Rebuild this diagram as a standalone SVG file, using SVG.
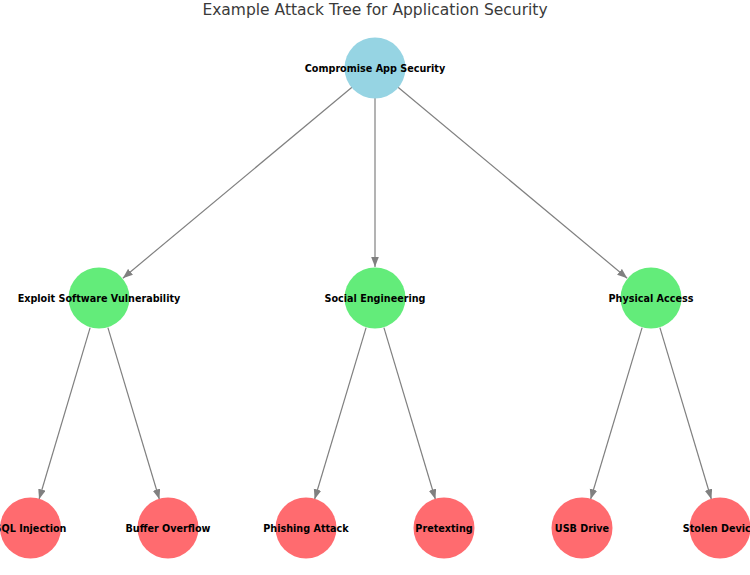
<svg xmlns="http://www.w3.org/2000/svg" width="750" height="575" viewBox="0 0 750 575">
<style>
.lbl{font-family:"DejaVu Sans",sans-serif;font-weight:bold;font-size:9.65px;fill:#000;text-anchor:middle;dominant-baseline:central}
.title{font-family:"DejaVu Sans",sans-serif;font-size:15.5px;fill:#3a3a3a;text-anchor:middle}
.e{stroke:#808080;stroke-width:1.2;fill:none;marker-end:url(#ah)}
.root{fill:#96d4e3}
.mid{fill:#63ec7a}
.leaf{fill:#ff6b6f}
</style>
<defs>
<marker id="ah" markerUnits="userSpaceOnUse" markerWidth="11" markerHeight="8" refX="10" refY="3.8" orient="auto">
<path d="M0,0 L10,3.8 L0,7.6 z" fill="#808080"/>
</marker>
</defs>
<rect width="750" height="575" fill="#fff"/>
<text class="title" x="375" y="15">Example Attack Tree for Application Security</text>
<g id="edges">
<line class="e" x1="351.96" y1="87.2" x2="122.8" y2="278.2"/>
<line class="e" x1="375" y1="98" x2="375" y2="267"/>
<line class="e" x1="398.04" y1="87.2" x2="627.2" y2="278.2"/>
<line class="e" x1="90.15" y1="327.7" x2="39.06" y2="499.25"/>
<line class="e" x1="107.9" y1="327.7" x2="159.38" y2="499.26"/>
<line class="e" x1="366.1" y1="327.7" x2="314.62" y2="499.26"/>
<line class="e" x1="383.9" y1="327.7" x2="435.38" y2="499.26"/>
<line class="e" x1="642.1" y1="327.7" x2="590.62" y2="499.26"/>
<line class="e" x1="659.9" y1="327.7" x2="711.38" y2="499.26"/>
</g>
<g id="n-root"><circle class="root" cx="375" cy="68" r="30.5"/><text class="lbl" x="375" y="68">Compromise App Security</text></g>
<g id="n-exploit"><circle class="mid" cx="99" cy="298" r="30.5"/><text class="lbl" x="99" y="298">Exploit Software Vulnerability</text></g>
<g id="n-social"><circle class="mid" cx="375" cy="298" r="30.5"/><text class="lbl" x="375" y="298">Social Engineering</text></g>
<g id="n-physical"><circle class="mid" cx="651" cy="298" r="30.5"/><text class="lbl" x="651" y="298">Physical Access</text></g>
<g id="n-sql"><circle class="leaf" cx="30.5" cy="528" r="30.5"/><text class="lbl" x="30.5" y="528">SQL Injection</text></g>
<g id="n-buffer"><circle class="leaf" cx="168" cy="528" r="30.5"/><text class="lbl" x="168" y="528">Buffer Overflow</text></g>
<g id="n-phishing"><circle class="leaf" cx="306" cy="528" r="30.5"/><text class="lbl" x="306" y="528">Phishing Attack</text></g>
<g id="n-pretexting"><circle class="leaf" cx="444" cy="528" r="30.5"/><text class="lbl" x="444" y="528">Pretexting</text></g>
<g id="n-usb"><circle class="leaf" cx="582" cy="528" r="30.5"/><text class="lbl" x="582" y="528">USB Drive</text></g>
<g id="n-stolen"><circle class="leaf" cx="720" cy="528" r="30.5"/><text class="lbl" x="720" y="528">Stolen Device</text></g>
</svg>
